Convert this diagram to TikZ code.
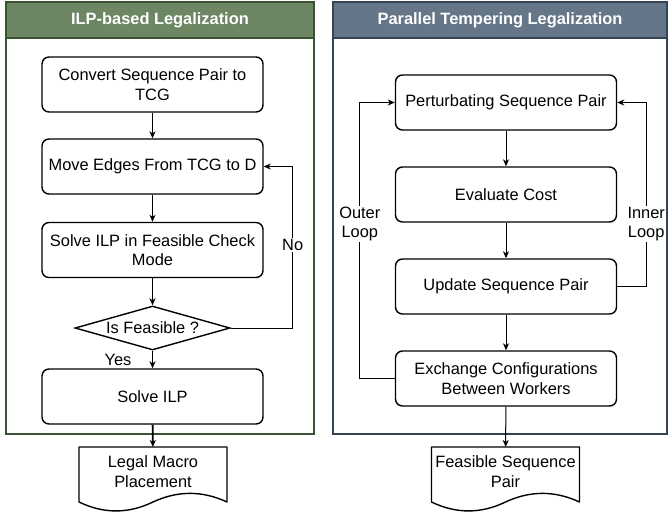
\documentclass[tikz,border=0pt]{standalone}
\usepackage{fontspec}
\setmainfont{Liberation Sans}
\usetikzlibrary{arrows.meta,shapes.geometric,calc}
\definecolor{greenhdr}{HTML}{6D8764}
\definecolor{greenline}{HTML}{3A5431}
\definecolor{bluehdr}{HTML}{647687}
\definecolor{blueline}{HTML}{314354}
\tikzset{
  stepbox/.style={draw=black, line width=1.4pt, rounded corners=7pt, minimum width=221pt,
    minimum height=55pt, align=center, inner sep=2pt, fill=white},
  decision/.style={draw=black, line width=1.4pt, diamond, aspect=3.5, inner sep=0pt,
    minimum width=155pt, minimum height=44pt, fill=white},
  docnode/.style={draw=none, minimum width=148pt, minimum height=49pt, outer sep=0pt,
    align=center, inner sep=0pt},
  docline/.style={draw=black, line width=1.4pt, line join=round},
  hdr/.style={minimum height=36pt, inner sep=0pt, outer sep=0pt, text=white,
    font=\fontsize{16.4}{19.7}\selectfont\bfseries},
  conn/.style={draw=black, line width=1pt, -{Stealth[length=7pt,width=6pt,inset=2pt]}},
  connthick/.style={conn, line width=1.9pt},
  lbl/.style={fill=white, inner sep=1pt, align=center},
}
\begin{document}
\begin{tikzpicture}[x=1pt,y=-1pt,font=\fontsize{16.4}{19.7}\selectfont]
\useasboundingbox (0,0) rectangle (668,514);
% containers
\draw[greenline, line width=1.2pt] (6,2) rectangle (314,434);
\node[hdr, fill=greenhdr, draw=greenline, line width=1.2pt, minimum width=308pt] (h1) at (160,20) {ILP-based Legalization};
\draw[blueline, line width=1.2pt] (333,2) rectangle (667,434);
\node[hdr, fill=bluehdr, draw=blueline, line width=1.2pt, minimum width=334pt] (h2) at (500,20) {Parallel Tempering Legalization};

% left flow
\node[stepbox] (b1) at (152.5,84.5) {Convert Sequence Pair to\\TCG};
\node[stepbox] (b2) at (152.5,166.5) {Move Edges From TCG to D};
\node[stepbox] (b3) at (152.5,250) {Solve ILP in Feasible Check\\Mode};
\node[decision] (dia) at (152.5,328) {Is Feasible ?};
\node[stepbox] (b4) at (152.5,396.5) {Solve ILP};
\node[docnode] (d1) at (153,471.5) {Legal Macro\\Placement};
\draw[docline] (d1.north west) -- (d1.north east) -- ($(d1.south east)+(0,6)$)
  .. controls ($(d1.south)+(49.3,-5.5)$) and ($(d1.south)+(24.7,-5.5)$) .. ($(d1.south)+(0,6)$)
  .. controls ($(d1.south)+(-24.7,17.9)$) and ($(d1.south)+(-49.3,17.9)$) .. ($(d1.south west)+(0,6)$) -- cycle;

\draw[conn] (b1) -- (b2);
\draw[connthick] (b2) -- (b3);
\draw[connthick] (b3) -- (dia);
\draw[connthick] (dia) -- (b4);
\draw[connthick] (b4) -- (d1);
\draw[conn] (dia.east) -- ++(62,0) |- node[lbl, pos=0.257] {No} (b2.east);
\node (yes) at (118,360) {Yes};

% right flow
\node[stepbox] (p1) at (506,102.5) {Perturbating Sequence Pair};
\node[stepbox] (p2) at (506,194.5) {Evaluate Cost};
\node[stepbox] (p3) at (506,286.5) {Update Sequence Pair};
\node[stepbox] (p4) at (506,378.5) {Exchange Configurations\\Between Workers};
\node[docnode] (d2) at (505.5,471.5) {Feasible Sequence\\Pair};
\draw[docline] (d2.north west) -- (d2.north east) -- ($(d2.south east)+(0,6)$)
  .. controls ($(d2.south)+(49.3,-5.5)$) and ($(d2.south)+(24.7,-5.5)$) .. ($(d2.south)+(0,6)$)
  .. controls ($(d2.south)+(-24.7,17.9)$) and ($(d2.south)+(-49.3,17.9)$) .. ($(d2.south west)+(0,6)$) -- cycle;

\draw[conn] (p1) -- (p2);
\draw[conn] (p2) -- (p3);
\draw[conn] (p3) -- (p4);
\draw[conn] (p4) -- (d2);
\draw[conn] (p4.west) -- ++(-35,0) |- node[lbl, pos=0.28] {Outer\\Loop} (p1.west);
\draw[conn] (p3.east) -- ++(29,0) |- node[lbl, pos=0.17] {Inner\\Loop} (p1.east);
\end{tikzpicture}
\end{document}
